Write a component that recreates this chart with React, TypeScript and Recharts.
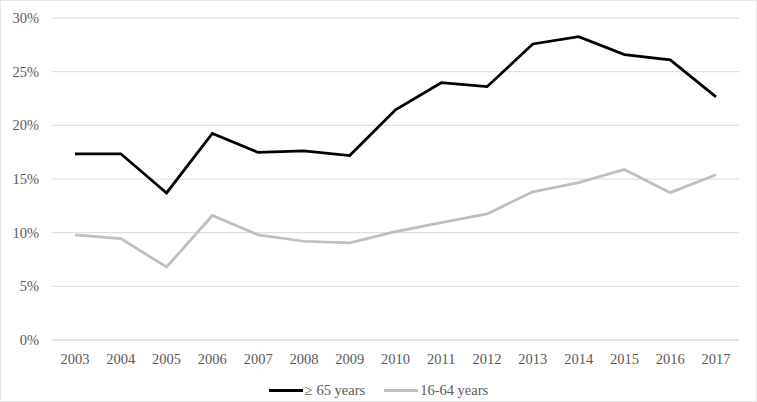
import { LineChart, Line, XAxis, YAxis, CartesianGrid, Legend } from 'recharts';

const years = ['2003', '2004', '2005', '2006', '2007', '2008', '2009', '2010', '2011', '2012', '2013', '2014', '2015', '2016', '2017'];
const over65 = [17.35, 17.35, 13.7, 19.25, 17.47, 17.63, 17.19, 21.45, 23.97, 23.6, 27.58, 28.26, 26.59, 26.1, 22.65];
const age16to64 = [9.8, 9.45, 6.8, 11.6, 9.8, 9.2, 9.05, 10.1, 10.94, 11.75, 13.8, 14.67, 15.89, 13.73, 15.39];
const yTicks = [0, 5, 10, 15, 20, 25, 30];

const SERIES = [
  { key: 'over65', name: '\u2265 65 years', color: '#000000' },
  { key: 'age16to64', name: '16-64 years', color: '#bfbfbf' },
];

const data = years.map((year, i) => ({
  year,
  over65: over65[i],
  age16to64: age16to64[i],
}));

const FONT = 'Liberation Serif';
const TEXT = '#595959';

const ChartLegend = () => (
  <div style={{ display: 'flex', justifyContent: 'center', fontFamily: FONT, fontSize: 14.5, color: TEXT, lineHeight: '20px' }}>
    {SERIES.map((s, i) => (
      <div key={s.key} style={{ display: 'flex', alignItems: 'center', marginLeft: i === 0 ? 0 : 19 }}>
        <span style={{ display: 'inline-block', width: 34, height: 3, background: s.color, marginRight: 2 }} />
        <span>{s.name}</span>
      </div>
    ))}
  </div>
);

export default function App() {
  return (
    <div style={{ position: 'absolute', left: 0, top: 0, width: 757, height: 402, background: '#fff', fontFamily: FONT }}>
      <LineChart width={757} height={402} data={data} margin={{ top: 18, right: 18, left: 8, bottom: 12 }}>
        <CartesianGrid horizontal vertical={false} stroke="#d9d9d9" strokeWidth={1} />
        <XAxis
          dataKey="year"
          axisLine={{ stroke: '#d9d9d9' }}
          tickLine={false}
          tickMargin={8}
          height={30}
          padding={{ left: 23, right: 23 }}
          tick={{ fill: TEXT, fontSize: 14.5, fontFamily: FONT }}
          interval={0}
        />
        <YAxis
          domain={[0, 30]}
          ticks={yTicks}
          width={44}
          axisLine={false}
          tickLine={false}
          tickMargin={7}
          tickFormatter={(v: number) => `${v}%`}
          tick={{ fill: TEXT, fontSize: 14.5, fontFamily: FONT }}
        />
        <Legend
          content={<ChartLegend />}
          wrapperStyle={{ position: 'absolute', top: 380, left: 0, width: 757, height: 20 }}
        />
        {SERIES.map(s => (
          <Line
            key={s.key}
            type="linear"
            dataKey={s.key}
            name={s.name}
            stroke={s.color}
            strokeWidth={2.75}
            dot={false}
            isAnimationActive={false}
          />
        ))}
      </LineChart>
      <div style={{ position: 'absolute', left: 0, top: 0, width: 757, height: 402, boxSizing: 'border-box', border: '1px solid #e6e6e6', pointerEvents: 'none' }} />
    </div>
  );
}
